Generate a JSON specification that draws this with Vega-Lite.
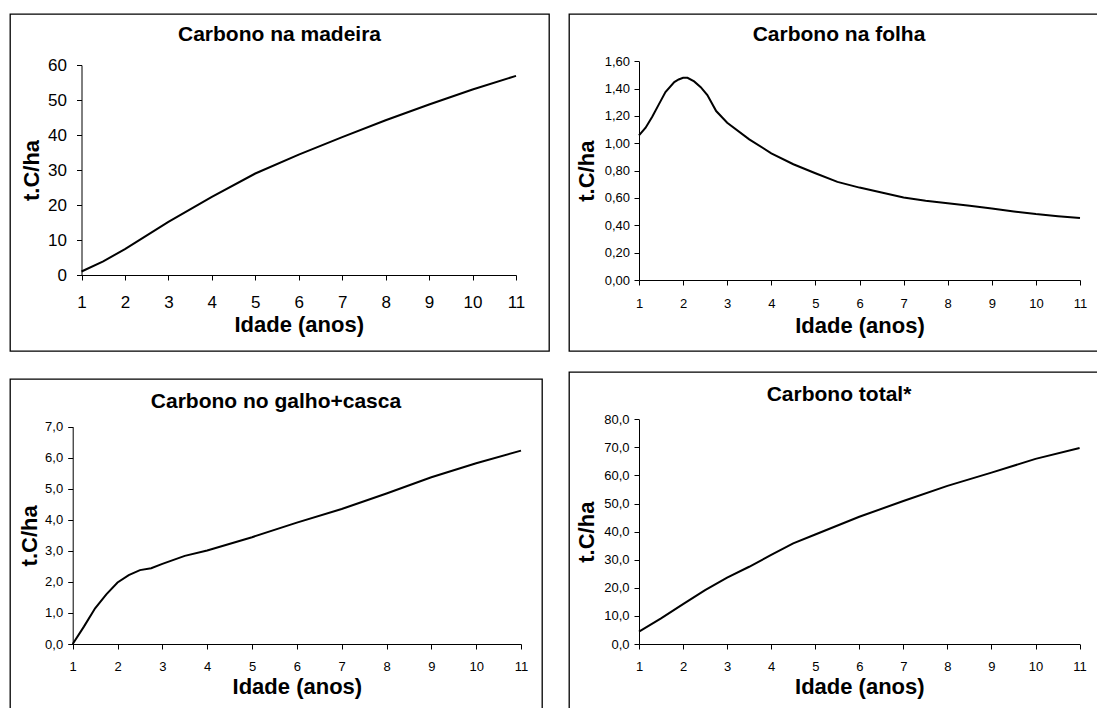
{
  "$schema": "https://vega.github.io/schema/vega-lite/v6.json",
  "background": "white",
  "padding": {"left": 9, "top": 13, "right": 0, "bottom": 0},
  "config": {
    "font": "Liberation Sans",
    "view": {"stroke": "#000", "strokeWidth": 1.3},
    "axis": {
      "grid": false,
      "domainColor": "#000",
      "tickColor": "#000",
      "labelColor": "#000",
      "titleColor": "#000",
      "labelFont": "Liberation Sans",
      "titleFont": "Liberation Sans",
      "titleFontWeight": "bold",
      "tickSize": 5,
      "domainWidth": 1,
      "tickWidth": 1,
      "labelFlush": false,
      "labelOverlap": false
    },
    "title": {"font": "Liberation Sans", "fontWeight": "bold", "color": "#000", "anchor": "middle", "frame": "group", "baseline": "alphabetic"},
    "line": {"color": "#000", "strokeWidth": 2}
  },
  "datasets": {
    "madeira": [
      {"idade": 1, "carbono": 1.0},
      {"idade": 1.5, "carbono": 3.9},
      {"idade": 2, "carbono": 7.4},
      {"idade": 3, "carbono": 15.2},
      {"idade": 4, "carbono": 22.3},
      {"idade": 5, "carbono": 29.0},
      {"idade": 6, "carbono": 34.4},
      {"idade": 7, "carbono": 39.4},
      {"idade": 8, "carbono": 44.2},
      {"idade": 9, "carbono": 48.7},
      {"idade": 10, "carbono": 53.0},
      {"idade": 11, "carbono": 56.9}
    ],
    "folha": [
      {"idade": 1, "carbono": 1.058},
      {"idade": 1.15, "carbono": 1.114},
      {"idade": 1.3, "carbono": 1.195},
      {"idade": 1.45, "carbono": 1.285},
      {"idade": 1.6, "carbono": 1.375},
      {"idade": 1.8, "carbono": 1.448},
      {"idade": 1.9, "carbono": 1.467},
      {"idade": 2.0, "carbono": 1.479},
      {"idade": 2.1, "carbono": 1.479},
      {"idade": 2.25, "carbono": 1.453},
      {"idade": 2.4, "carbono": 1.411},
      {"idade": 2.55, "carbono": 1.353},
      {"idade": 2.75, "carbono": 1.236},
      {"idade": 3, "carbono": 1.151},
      {"idade": 3.5, "carbono": 1.029},
      {"idade": 4, "carbono": 0.927},
      {"idade": 4.5, "carbono": 0.847},
      {"idade": 5, "carbono": 0.781},
      {"idade": 5.5, "carbono": 0.718},
      {"idade": 6, "carbono": 0.676},
      {"idade": 6.5, "carbono": 0.640},
      {"idade": 7, "carbono": 0.603},
      {"idade": 7.5, "carbono": 0.579},
      {"idade": 8, "carbono": 0.562},
      {"idade": 8.5, "carbono": 0.543},
      {"idade": 9, "carbono": 0.523},
      {"idade": 9.5, "carbono": 0.501},
      {"idade": 10, "carbono": 0.482},
      {"idade": 10.5, "carbono": 0.467},
      {"idade": 11, "carbono": 0.453}
    ],
    "galho": [
      {"idade": 1, "carbono": 0.0},
      {"idade": 1.25, "carbono": 0.56},
      {"idade": 1.5, "carbono": 1.15},
      {"idade": 1.75, "carbono": 1.60},
      {"idade": 2, "carbono": 1.98},
      {"idade": 2.25, "carbono": 2.22},
      {"idade": 2.5, "carbono": 2.38},
      {"idade": 2.75, "carbono": 2.44},
      {"idade": 3, "carbono": 2.58},
      {"idade": 3.5, "carbono": 2.84},
      {"idade": 4, "carbono": 3.01},
      {"idade": 5, "carbono": 3.44},
      {"idade": 6, "carbono": 3.91},
      {"idade": 7, "carbono": 4.35},
      {"idade": 8, "carbono": 4.85},
      {"idade": 9, "carbono": 5.37},
      {"idade": 10, "carbono": 5.82},
      {"idade": 11, "carbono": 6.23}
    ],
    "total": [
      {"idade": 1, "carbono": 4.4},
      {"idade": 1.5, "carbono": 9.1},
      {"idade": 2, "carbono": 14.2},
      {"idade": 2.5, "carbono": 19.2},
      {"idade": 3, "carbono": 23.6},
      {"idade": 3.5, "carbono": 27.5},
      {"idade": 4, "carbono": 31.7},
      {"idade": 4.5, "carbono": 35.8},
      {"idade": 5, "carbono": 39.0},
      {"idade": 6, "carbono": 45.3},
      {"idade": 7, "carbono": 50.9},
      {"idade": 8, "carbono": 56.3},
      {"idade": 9, "carbono": 61.0},
      {"idade": 10, "carbono": 65.9},
      {"idade": 11, "carbono": 69.8}
    ]
  },
  "spacing": 18,
  "hconcat": [
    {
      "spacing": 26,
      "vconcat": [
        {
          "width": 539,
          "height": 337,
          "title": {"text": "Carbono na madeira", "fontSize": 21, "offset": -31},
          "data": {"name": "madeira"},
          "mark": {"type": "line"},
          "encoding": {
            "x": {
              "field": "idade", "type": "quantitative",
              "scale": {"domain": [1, 11], "range": [71.5, 506], "nice": false, "zero": false},
              "axis": {"values": [1, 2, 3, 4, 5, 6, 7, 8, 9, 10, 11], "format": "d", "offset": -76, "title": "Idade (anos)", "labelFontSize": 17, "labelPadding": 14, "titleFontSize": 22, "titlePadding": 4}
            },
            "y": {
              "field": "carbono", "type": "quantitative",
              "scale": {"domain": [0, 60], "range": [261, 51], "nice": false},
              "axis": {"values": [0, 10, 20, 30, 40, 50, 60], "format": "d", "offset": -71.5, "title": "t.C/ha", "labelFontSize": 17, "labelPadding": 10, "titleFontSize": 22, "titlePadding": 4}
            }
          }
        },
        {
          "width": 532,
          "height": 340,
          "title": {"text": "Carbono no galho+casca", "fontSize": 21, "offset": -33},
          "data": {"name": "galho"},
          "mark": {"type": "line"},
          "encoding": {
            "x": {
              "field": "idade", "type": "quantitative",
              "scale": {"domain": [1, 11], "range": [62.7, 511], "nice": false, "zero": false},
              "axis": {"values": [1, 2, 3, 4, 5, 6, 7, 8, 9, 10, 11], "format": "d", "offset": -75, "title": "Idade (anos)", "labelFontSize": 13, "labelPadding": 11.5, "titleFontSize": 22, "titlePadding": 3}
            },
            "y": {
              "field": "carbono", "type": "quantitative",
              "scale": {"domain": [0, 7], "range": [265, 47.7], "nice": false},
              "axis": {"values": [0, 1, 2, 3, 4, 5, 6, 7], "labelExpr": "replace(format(datum.value, '.1f'), '.', ',')", "offset": -62.7, "title": "t.C/ha", "labelFontSize": 13, "labelPadding": 5, "titleFontSize": 22, "titlePadding": 3}
            }
          }
        }
      ]
    },
    {
      "spacing": 19,
      "vconcat": [
        {
          "width": 540,
          "height": 337,
          "title": {"text": "Carbono na folha", "fontSize": 21, "offset": -31},
          "data": {"name": "folha"},
          "mark": {"type": "line"},
          "encoding": {
            "x": {
              "field": "idade", "type": "quantitative",
              "scale": {"domain": [1, 11], "range": [70, 511], "nice": false, "zero": false},
              "axis": {"values": [1, 2, 3, 4, 5, 6, 7, 8, 9, 10, 11], "format": "d", "offset": -71, "title": "Idade (anos)", "labelFontSize": 13, "labelPadding": 12, "titleFontSize": 22, "titlePadding": 5}
            },
            "y": {
              "field": "carbono", "type": "quantitative",
              "scale": {"domain": [0, 1.6], "range": [266, 47.3], "nice": false},
              "axis": {"values": [0, 0.2, 0.4, 0.6, 0.8, 1.0, 1.2, 1.4, 1.6], "labelExpr": "replace(format(datum.value, '.2f'), '.', ',')", "offset": -70, "title": "t.C/ha", "labelFontSize": 13, "labelPadding": 4.5, "titleFontSize": 22, "titlePadding": 6}
            }
          }
        },
        {
          "width": 540,
          "height": 340,
          "title": {"text": "Carbono total*", "fontSize": 21, "offset": -33},
          "data": {"name": "total"},
          "mark": {"type": "line"},
          "encoding": {
            "x": {
              "field": "idade", "type": "quantitative",
              "scale": {"domain": [1, 11], "range": [70, 510.6], "nice": false, "zero": false},
              "axis": {"values": [1, 2, 3, 4, 5, 6, 7, 8, 9, 10, 11], "format": "d", "offset": -68, "title": "Idade (anos)", "labelFontSize": 13, "labelPadding": 11.5, "titleFontSize": 22, "titlePadding": 3}
            },
            "y": {
              "field": "carbono", "type": "quantitative",
              "scale": {"domain": [0, 80], "range": [272, 47.3], "nice": false},
              "axis": {"values": [0, 10, 20, 30, 40, 50, 60, 70, 80], "labelExpr": "replace(format(datum.value, '.1f'), '.', ',')", "offset": -70, "title": "t.C/ha", "labelFontSize": 13, "labelPadding": 5, "titleFontSize": 22, "titlePadding": 5}
            }
          }
        }
      ]
    }
  ]
}
